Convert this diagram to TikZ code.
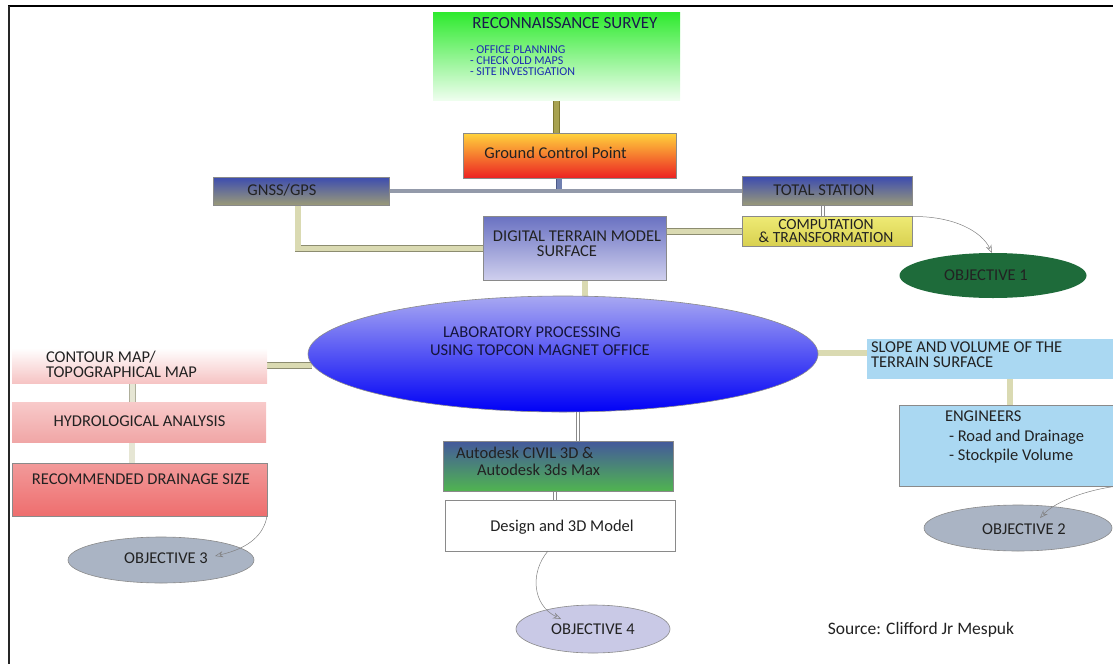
\documentclass[tikz,border=0pt]{standalone}
\usepackage{fontspec}
\setmainfont{Carlito}
\usetikzlibrary{arrows.meta,shapes.geometric}
\pgfdeclarelayer{background}
\pgfsetlayers{background,main}
\definecolor{txt}{HTML}{222222}
\definecolor{navy}{HTML}{1A1A4C}
\definecolor{bul}{HTML}{1C2CB0}
\definecolor{recg}{HTML}{2EEA2E}
\definecolor{recw}{HTML}{EEFEEE}
\definecolor{gcpy}{HTML}{FFD43C}
\definecolor{gcpo}{HTML}{F68A2C}
\definecolor{gcpr}{HTML}{EC2222}
\definecolor{gnb}{HTML}{3C4CB0}
\definecolor{gno}{HTML}{9A9A78}
\definecolor{dtmt}{HTML}{6A72C2}
\definecolor{dtmb}{HTML}{D0D0EE}
\definecolor{compt}{HTML}{EEEA74}
\definecolor{compb}{HTML}{D8D050}
\definecolor{objg}{HTML}{1E6B3A}
\definecolor{labt}{HTML}{A8A8F2}
\definecolor{labb}{HTML}{0000F6}
\definecolor{pinkb}{HTML}{F6C4C4}
\definecolor{hydt}{HTML}{F8CACA}
\definecolor{hydb}{HTML}{F0A6A6}
\definecolor{rect}{HTML}{F29A9A}
\definecolor{recb}{HTML}{EE6E6E}
\definecolor{objgray}{HTML}{AAB4C4}
\definecolor{lblue}{HTML}{AAD8F2}
\definecolor{autot}{HTML}{44589C}
\definecolor{autob}{HTML}{50B450}
\definecolor{obj4c}{HTML}{C9C9E6}
\definecolor{edge}{HTML}{8A8A8A}
\definecolor{khf}{HTML}{DADAB2}
\definecolor{khe}{HTML}{8C8C70}
\definecolor{crf}{HTML}{E6E6D4}
\definecolor{olvf}{HTML}{A8A250}
\definecolor{olve}{HTML}{7E7830}
\definecolor{bluf}{HTML}{7080B0}
\definecolor{blue}{HTML}{4C5A88}
\definecolor{grf}{HTML}{939AAA}
\definecolor{gre}{HTML}{6C7488}
\begin{document}
\begin{tikzpicture}[x=1pt,y=-1pt,
  every node/.style={font=\fontsize{16.5}{15}\selectfont, text=txt, inner sep=0pt, outer sep=0pt},
  box/.style={rectangle, draw=edge, line width=0.6pt},
  nobox/.style={rectangle},
  oval/.style={ellipse, draw=edge, line width=0.6pt},
  khaki/.style={draw=khe, line width=0.7pt, double=khf, double distance=5.5pt},
  cream/.style={draw=khe!70, line width=0.6pt, double=crf, double distance=5.5pt},
  olvband/.style={draw=olve, line width=0.7pt, double=olvf, double distance=5.5pt},
  bluband/.style={draw=blue, line width=0.7pt, double=bluf, double distance=5pt},
  grband/.style={draw=gre, line width=0.6pt, double=grf, double distance=3.5pt},
  thindbl/.style={draw=edge, line width=0.6pt, double=white, double distance=2.5pt},
  curvarrow/.style={draw=gray, line width=0.5pt, -{Stealth[open, length=8pt, width=6pt]}},
  small/.style={font=\fontsize{12}{11}\selectfont}
]
\useasboundingbox (0,0) rectangle (1113,664);
\draw[line width=1.6pt, black] (8,6) -- (1113,6);
\draw[line width=1.8pt, black!85] (9,6) -- (9,664);

% boxes
\node[nobox, minimum width=247, minimum height=88, top color=recg, bottom color=recw] (recon) at (556.5,56) {};
\node[text=navy, anchor=center, font=\fontsize{17}{15}\selectfont] (recont) at (565,23) {RECONNAISSANCE SURVEY};
\node[small, text=bul, anchor=north west, align=left] (reconb) at (470,46) {- OFFICE PLANNING\\- CHECK OLD MAPS\\- SITE INVESTIGATION};

\node[box, minimum width=213, minimum height=45, top color=gcpy, middle color=gcpo, bottom color=gcpr] (gcp) at (569.5,155.5) {};
\node (gcpt) at (555.5,153) {Ground Control Point};

\node[box, minimum width=176, minimum height=28, top color=gnb, bottom color=gno] (gnss) at (301,191) {};
\node (gnsst) at (282,190) {GNSS/GPS};
\node[box, minimum width=170, minimum height=29, top color=gnb, bottom color=gno] (ts) at (827,191) {};
\node (tst) at (824,190) {TOTAL STATION};

\node[box, minimum width=170, minimum height=30, top color=compt, bottom color=compb] (comp) at (827,231.5) {};
\node[align=center, font=\fontsize{15.5}{13.5}\selectfont] (compt) at (826,231) {COMPUTATION\\\& TRANSFORMATION};

\node[box, minimum width=183, minimum height=64, top color=dtmt, bottom color=dtmb] (dtm) at (574.5,248.5) {};
\node[align=center] (dtmtx) at (577,243.5) {DIGITAL TERRAIN MODEL\\SURFACE\kern20pt};

\node[oval, draw=none, minimum width=187, minimum height=45, fill=objg] (obj1) at (993,275.5) {};
\node (obj1t) at (986,275) {OBJECTIVE 1};

\node[oval, minimum width=510, minimum height=116, top color=labt, bottom color=labb] (lab) at (563,354) {};
\node[anchor=north west, align=left, text=navy!80!black, font=\fontsize{16.5}{18}\selectfont] (labt) at (430,327) {\hspace*{13pt}LABORATORY PROCESSING\\USING TOPCON MAGNET OFFICE};

\node[nobox, minimum width=255, minimum height=35, top color=white, bottom color=pinkb] (contour) at (139.5,365.5) {};
\node[anchor=west, align=left] (contourt) at (46,364) {CONTOUR MAP/\\TOPOGRAPHICAL MAP};

\node[nobox, minimum width=254, minimum height=40, top color=hydt, bottom color=hydb] (hydro) at (139,422) {};
\node (hydrot) at (139.5,421) {HYDROLOGICAL ANALYSIS};

\node[box, minimum width=255, minimum height=53, top color=rect, bottom color=recb] (rec) at (139.5,489.5) {};
\node (rect) at (141,479) {RECOMMENDED DRAINAGE SIZE};

\node[oval, minimum width=186, minimum height=46, fill=objgray] (obj3) at (161,560) {};
\node (obj3t) at (166,558) {OBJECTIVE 3};

\node[nobox, minimum width=251, minimum height=40, fill=lblue] (slope) at (992.5,359) {};
\node[anchor=west, align=left] (slopet) at (871,355) {SLOPE AND VOLUME OF THE\\TERRAIN SURFACE};

\node[box, minimum width=219, minimum height=81, fill=lblue] (eng) at (1008.5,445.5) {};
\node[anchor=north west, align=left, font=\fontsize{16.5}{19.5}\selectfont] (engt) at (945,411) {ENGINEERS\\\hspace*{4pt}- Road and Drainage\\\hspace*{4pt}- Stockpile Volume};

\node[oval, minimum width=188, minimum height=46, fill=objgray] (obj2) at (1018,528) {};
\node (obj2t) at (1024,529) {OBJECTIVE 2};

\node[box, minimum width=230, minimum height=50, top color=autot, bottom color=autob] (auto) at (558,466) {};
\node[anchor=west, align=left, font=\fontsize{16.5}{17}\selectfont] (autot) at (456,461.5) {Autodesk CIVIL 3D \&\\\hspace*{21pt}Autodesk 3ds Max};

\node[box, minimum width=230, minimum height=51, fill=white] (design) at (560,525.5) {};
\node (designt) at (562,527) {Design and 3D Model};

\node[oval, minimum width=154, minimum height=48, fill=obj4c] (obj4) at (593,629) {};
\node (obj4t) at (593,629) {OBJECTIVE 4};

\node[font=\fontsize{17.5}{15}\selectfont] (source) at (921,630) {Source: Clifford Jr Mespuk};

\coordinate (tip1) at (992,253);
\coordinate (tip2) at (1040,518);
\coordinate (tip3) at (215,556);
\coordinate (tip4) at (561,619);

% connectors
\begin{pgfonlayer}{background}
\draw[olvband] (recon.south) -- (recon.south |- gcp.north);
\draw[bluband] ([xshift=-10.5pt]gcp.south) -- ([xshift=-10.5pt]gcp.south |- gnss.east);
\draw[grband] (gnss.east) -- (ts.west);
\draw[khaki] ([xshift=-3pt]gnss.south) |- (dtm.west);
\draw[khaki] (comp.west) -- (comp.west -| dtm.east);
\draw[thindbl] ([xshift=-4pt]ts.south) -- ([xshift=-4pt]comp.north);
\draw[khaki] ([xshift=10.5pt]dtm.south) -- ([xshift=10.5pt,yshift=-4pt]dtm.south |- lab.north);
\draw[khaki] (contour.east) -- ([xshift=4pt]contour.east -| lab.west);
\draw[khaki] ([yshift=6pt]slope.west) -- ([yshift=6pt,xshift=-4pt]slope.west -| lab.east);
\draw[cream] ([xshift=-7pt]contour.south) -- ([xshift=-7pt]contour.south |- hydro.north);
\draw[cream] ([xshift=-7pt]hydro.south) -- ([xshift=-7pt]hydro.south |- rec.north);
\draw[khaki] ([xshift=1.5pt]eng.north) -- ([xshift=1.5pt]eng.north |- slope.south);
\draw[thindbl] ([xshift=15pt,yshift=4pt]lab.south) -- ([xshift=15pt]lab.south |- auto.north);
\draw[thindbl] ([xshift=-3pt]auto.south) -- ([xshift=-3pt]auto.south |- design.north);
\end{pgfonlayer}

\draw[curvarrow] (comp.north east) .. controls (955,216) and (982,232) .. (tip1);
\draw[curvarrow] (eng.south east) .. controls (1085,490) and (1055,502) .. (tip2);
\draw[curvarrow] (rec.south east) .. controls (264,534) and (250,548) .. (tip3);
\draw[curvarrow] ([xshift=-12pt]design.south) .. controls (530,572) and (532,605) .. (tip4);
\end{tikzpicture}
\end{document}
